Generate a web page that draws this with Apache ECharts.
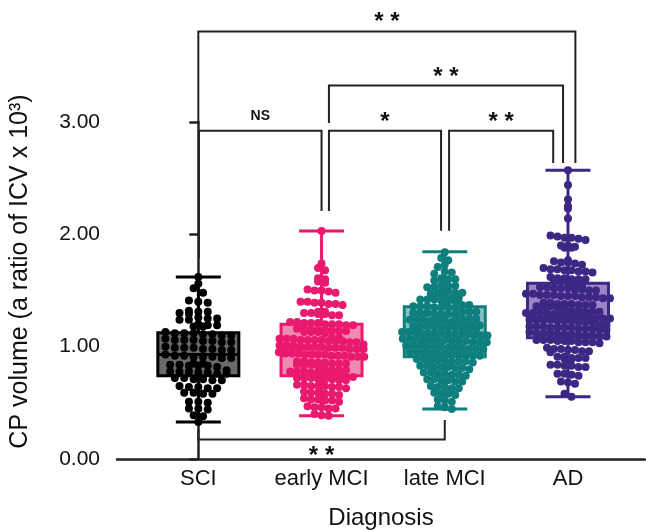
<!DOCTYPE html>
<html>
<head>
<meta charset="utf-8">
<script src="https://cdn.jsdelivr.net/npm/echarts@6/dist/echarts.min.js"></script>
<style>
  html, body { margin: 0; background: #fff; }
  #main { width: 646px; height: 531px; }
</style>
</head>
<body>
<div id="main"></div>
<script>
const categories = ['SCI', 'early MCI', 'late MCI', 'AD'];

// individual subjects
const sciValues = [1.62, 1.56, 1.52, 1.48,
  1.41, 1.40, 1.39,
  1.32, 1.31, 1.31, 1.30, 1.29,
  1.26, 1.25, 1.25, 1.24, 1.24,
  1.20, 1.19, 1.19, 1.18, 1.18,
  1.13, 1.12, 1.12, 1.12, 1.11, 1.11, 1.10, 1.10,
  1.07, 1.06, 1.06, 1.06, 1.05, 1.05, 1.04, 1.04,
  1.00, 0.99, 0.99, 0.99, 0.98, 0.98, 0.97, 0.97,
  0.93, 0.92, 0.92, 0.91, 0.91, 0.91, 0.90, 0.90,
  0.85, 0.85, 0.84, 0.84, 0.83, 0.83, 0.83, 0.82,
  0.79, 0.78, 0.78, 0.78, 0.77, 0.77, 0.76, 0.76,
  0.72, 0.72, 0.71, 0.71, 0.70, 0.70,
  0.65, 0.64, 0.64, 0.63, 0.63,
  0.59, 0.59, 0.58, 0.58,
  0.51, 0.51, 0.50,
  0.45, 0.45, 0.44,
  0.39, 0.38,
  0.33];

const earlyValues = [2.03,
  1.74, 1.70, 1.68,
  1.61, 1.60, 1.58, 1.57,
  1.51, 1.50, 1.50, 1.49, 1.48,
  1.40, 1.40, 1.39, 1.39, 1.38, 1.38, 1.37,
  1.31, 1.31, 1.30, 1.30, 1.29, 1.29, 1.28, 1.28,
  1.22, 1.22, 1.21, 1.21, 1.21, 1.20, 1.20, 1.20, 1.19, 1.19,
  1.16, 1.16, 1.15, 1.15, 1.15, 1.14, 1.14, 1.14, 1.13, 1.13, 1.13, 1.12,
  1.08, 1.08, 1.07, 1.07, 1.07, 1.06, 1.06, 1.06, 1.06, 1.05, 1.05, 1.05, 1.04, 1.04,
  1.02, 1.01, 1.01, 1.01, 1.00, 1.00, 1.00, 1.00, 0.99, 0.99, 0.99, 0.98, 0.98, 0.98,
  0.95, 0.94, 0.94, 0.94, 0.93, 0.93, 0.93, 0.93, 0.92, 0.92, 0.92, 0.91, 0.91, 0.91,
  0.87, 0.87, 0.86, 0.86, 0.86, 0.85, 0.85, 0.85, 0.84, 0.84, 0.84, 0.83,
  0.80, 0.79, 0.79, 0.79, 0.78, 0.78, 0.78, 0.77, 0.77, 0.77, 0.76, 0.76,
  0.73, 0.73, 0.72, 0.72, 0.72, 0.71, 0.71, 0.71, 0.70, 0.70,
  0.66, 0.66, 0.65, 0.65, 0.65, 0.64, 0.64, 0.63,
  0.60, 0.59, 0.59, 0.58, 0.58, 0.57,
  0.54, 0.53, 0.53, 0.52, 0.52, 0.51,
  0.47, 0.46, 0.46, 0.45, 0.45,
  0.40, 0.39, 0.385];

const lateValues = [1.84,
  1.79, 1.77,
  1.73, 1.71,
  1.67, 1.66, 1.65,
  1.61, 1.60, 1.60, 1.59,
  1.55, 1.54, 1.54, 1.53, 1.53,
  1.49, 1.49, 1.48, 1.48, 1.47, 1.47, 1.46,
  1.43, 1.43, 1.42, 1.42, 1.42, 1.41, 1.41, 1.40,
  1.37, 1.37, 1.36, 1.36, 1.36, 1.35, 1.35, 1.35, 1.34,
  1.31, 1.31, 1.31, 1.30, 1.30, 1.30, 1.29, 1.29, 1.29, 1.28,
  1.25, 1.25, 1.25, 1.24, 1.24, 1.24, 1.23, 1.23, 1.23, 1.22, 1.22,
  1.19, 1.19, 1.19, 1.18, 1.18, 1.18, 1.18, 1.17, 1.17, 1.17, 1.16, 1.16, 1.16,
  1.13, 1.13, 1.13, 1.12, 1.12, 1.12, 1.12, 1.11, 1.11, 1.11, 1.11, 1.10, 1.10, 1.10,
  1.07, 1.07, 1.07, 1.06, 1.06, 1.06, 1.06, 1.05, 1.05, 1.05, 1.04, 1.04, 1.04,
  1.01, 1.01, 1.01, 1.00, 1.00, 1.00, 0.99, 0.99, 0.99, 0.98, 0.98, 0.98,
  0.95, 0.95, 0.95, 0.94, 0.94, 0.94, 0.93, 0.93, 0.93, 0.92, 0.92,
  0.89, 0.89, 0.88, 0.88, 0.88, 0.87, 0.87, 0.87, 0.86,
  0.83, 0.83, 0.82, 0.82, 0.82, 0.81, 0.81, 0.80,
  0.77, 0.77, 0.76, 0.76, 0.75, 0.75, 0.74,
  0.71, 0.71, 0.70, 0.70, 0.69, 0.69,
  0.65, 0.64, 0.64, 0.63, 0.63,
  0.59, 0.58, 0.58, 0.57,
  0.53, 0.52, 0.51,
  0.47, 0.46,
  0.445];

const adValues = [2.57,
  2.44,
  2.31,
  2.25, 2.23,
  2.14,
  1.99, 1.98, 1.97, 1.97, 1.96, 1.95,
  1.90, 1.90, 1.89, 1.88, 1.88,
  1.77, 1.76, 1.75, 1.75, 1.74, 1.73,
  1.70, 1.69, 1.69, 1.68, 1.68, 1.67, 1.67, 1.66,
  1.62, 1.61, 1.61, 1.60, 1.60, 1.60, 1.59, 1.59, 1.58,
  1.54, 1.54, 1.53, 1.53, 1.52, 1.52, 1.52, 1.51, 1.51, 1.50, 1.50,
  1.47, 1.47, 1.46, 1.46, 1.46, 1.45, 1.45, 1.45, 1.44, 1.44, 1.44, 1.43, 1.43,
  1.39, 1.39, 1.38, 1.38, 1.38, 1.37, 1.37, 1.37, 1.36, 1.36, 1.36, 1.35, 1.35,
  1.32, 1.32, 1.31, 1.31, 1.31, 1.30, 1.30, 1.30, 1.30, 1.29, 1.29, 1.29, 1.28, 1.28,
  1.26, 1.25, 1.25, 1.25, 1.24, 1.24, 1.24, 1.24, 1.23, 1.23, 1.23, 1.22, 1.22, 1.22,
  1.19, 1.19, 1.18, 1.18, 1.18, 1.17, 1.17, 1.17, 1.17, 1.16, 1.16, 1.16, 1.15, 1.15,
  1.13, 1.12, 1.12, 1.12, 1.11, 1.11, 1.11, 1.10, 1.10, 1.10, 1.09, 1.09,
  1.06, 1.06, 1.06, 1.05, 1.05, 1.05, 1.04, 1.04, 1.04, 1.03,
  0.99, 0.98, 0.98, 0.97, 0.97, 0.96, 0.96, 0.95,
  0.91, 0.91, 0.90, 0.90, 0.90, 0.89, 0.89,
  0.84, 0.84, 0.83, 0.83, 0.82, 0.82,
  0.76, 0.76, 0.75, 0.74,
  0.69, 0.68, 0.67,
  0.58,
  0.555];

// box summaries as drawn (whisker low, Q1, median, Q3, whisker high)
const boxMin = [0.33, 0.385, 0.445, 0.555];
const boxQ1 = [0.74, 0.74, 0.91, 1.08];
const boxMedian = [0.93, 0.98, 1.12, 1.26];
const boxQ3 = [1.125, 1.20, 1.356, 1.565];
const boxMax = [1.62, 2.03, 1.845, 2.57];

// pairwise comparisons: group a, group b, mark
const compareA = [0, 1, 0, 1, 2, 0];
const compareB = [3, 3, 1, 2, 3, 2];
const compareMark = ['* *', '* *', 'NS', '*', '* *', '* *'];

const groupValues = [sciValues, earlyValues, lateValues, adValues];
const dotColors = ['#000000', '#e8196e', '#0f7f7e', '#3d2784'];
const boxFills = ['#6a6a6a', '#f08ab1', '#89c1bf', '#9c84c8'];
const dotSpacing = [9.4, 7, 7, 7];
const PX_X = 123.2; // px per category step
const FONT = '"Liberation Sans", Arial, sans-serif';

// bracket drawing layout (leg x offsets in category units, heights in y units)
const bracketLayout = [
  { x1: 0.0, x2: 3.06, bar: 3.805, foot1: 2.99, foot2: 2.636, below: false },
  { x1: 1.06, x2: 2.96, bar: 3.324, foot1: 2.99, foot2: 2.636, below: false },
  { x1: 0.005, x2: 1.0, bar: 2.921, foot1: 1.79, foot2: 2.208, below: false },
  { x1: 1.06, x2: 1.97, bar: 2.921, foot1: 2.208, foot2: 2.033, below: false },
  { x1: 2.035, x2: 2.88, bar: 2.921, foot1: 2.033, foot2: 2.636, below: false },
  { x1: 0.0, x2: 2.0, bar: 0.174, foot1: 0.258, foot2: 0.347, below: true }
];

// lay dots out in rows, spread sideways around the category centre
function swarm(values, center, spacing) {
  const rows = {};
  values.forEach(v => {
    const k = Math.round(v / 0.058);
    (rows[k] = rows[k] || []).push(v);
  });
  const pts = [];
  Object.keys(rows).forEach(k => {
    const row = rows[k];
    const step = Math.min(spacing, 92 / row.length) / PX_X;
    row.forEach((v, j) => pts.push([center + (j - (row.length - 1) / 2) * step, v]));
  });
  return pts;
}

function boxRenderer(withFill) {
  return function (params, api) {
    const i = params.dataIndex;
    const c = api.value(0);
    const pMin = api.coord([c, api.value(1)]);
    const pQ1 = api.coord([c, api.value(2)]);
    const pMed = api.coord([c, api.value(3)]);
    const pQ3 = api.coord([c, api.value(4)]);
    const pMax = api.coord([c, api.value(5)]);
    const x = pMed[0];
    const half = 40.5, cap = 22.5;
    const stroke = dotColors[i];
    if (withFill) {
      return {
        type: 'rect',
        shape: { x: x - half, y: pQ3[1], width: half * 2, height: pQ1[1] - pQ3[1] },
        style: { fill: boxFills[i] }
      };
    }
    const ls = { stroke: stroke, lineWidth: 3, fill: null };
    return {
      type: 'group',
      children: [
        { type: 'rect', shape: { x: x - half, y: pQ3[1], width: half * 2, height: pQ1[1] - pQ3[1] }, style: ls },
        { type: 'line', shape: { x1: x - half, y1: pMed[1], x2: x + half, y2: pMed[1] }, style: ls },
        { type: 'line', shape: { x1: x, y1: pQ3[1], x2: x, y2: pMax[1] }, style: ls },
        { type: 'line', shape: { x1: x, y1: pQ1[1], x2: x, y2: pMin[1] }, style: ls },
        { type: 'line', shape: { x1: x - cap, y1: pMax[1], x2: x + cap, y2: pMax[1] }, style: ls },
        { type: 'line', shape: { x1: x - cap, y1: pMin[1], x2: x + cap, y2: pMin[1] }, style: ls }
      ]
    };
  };
}

function renderBracket(params, api) {
  const k = params.dataIndex;
  const b = bracketLayout[k];
  const a0 = api.coord([b.x1, b.foot1]);
  const a1 = api.coord([b.x1, b.bar]);
  const b1 = api.coord([b.x2, b.bar]);
  const b0 = api.coord([b.x2, b.foot2]);
  const mark = compareMark[k];
  const isNS = mark === 'NS';
  const size = isNS ? 14 : 24;
  const mid = (a1[0] + b1[0]) / 2;
  // asterisks sit high in the em box, so push them down a little
  const ty = b.below ? a1[1] + 12 + 0.22 * size : a1[1] - (isNS ? 15 : 14) + (isNS ? 0 : 0.22 * size);
  return {
    type: 'group',
    children: [
      { type: 'polyline', shape: { points: [a0, a1, b1, b0] }, style: { stroke: '#222', lineWidth: 2, fill: null } },
      {
        type: 'text', x: mid, y: ty,
        style: {
          text: mark, fill: '#111', fontSize: size, fontWeight: 'bold', fontFamily: FONT,
          align: 'center', verticalAlign: 'middle', textAlign: 'center', textVerticalAlign: 'middle'
        }
      }
    ]
  };
}

const boxData = categories.map((c, i) => [i, boxMin[i], boxQ1[i], boxMedian[i], boxQ3[i], boxMax[i]]);

const series = [
  { type: 'custom', renderItem: boxRenderer(true), data: boxData, z: 1, silent: true },
  { type: 'custom', renderItem: boxRenderer(false), data: boxData, z: 4, silent: true },
  {
    type: 'custom', renderItem: renderBracket, clip: false, z: 5, silent: true,
    data: bracketLayout.map((b, k) => [compareA[k], b.bar])
  }
];
groupValues.forEach((vals, i) => {
  series.push({
    type: 'scatter',
    name: categories[i],
    data: swarm(vals, i, dotSpacing[i]),
    symbolSize: 8,
    itemStyle: { color: dotColors[i], opacity: 1 },
    z: 3,
    silent: true
  });
});

const chart = echarts.init(document.getElementById('main'), null, { renderer: 'canvas' });
chart.setOption({
  backgroundColor: '#fff',
  animation: false,
  textStyle: { fontFamily: FONT },
  grid: { left: 117, right: 1, top: 122, bottom: 72, containLabel: false, outerBoundsMode: 'none' },
  xAxis: {
    type: 'value',
    min: -0.66,
    max: 3.625,
    splitLine: { show: false },
    axisLine: { lineStyle: { color: '#222', width: 2.5 } },
    axisTick: { show: false },
    axisLabel: {
      customValues: [0, 1, 2, 3],
      formatter: v => categories[Math.round(v)],
      fontSize: 22, color: '#111', margin: 9, fontFamily: FONT
    },
    name: 'Diagnosis',
    nameLocation: 'middle',
    nameGap: 47,
    nameTextStyle: { fontSize: 24, color: '#111', fontFamily: FONT }
  },
  yAxis: {
    type: 'value',
    min: 0,
    max: 3,
    interval: 1,
    splitLine: { show: false },
    axisLine: { show: true, lineStyle: { color: '#222', width: 2.5 } },
    axisTick: { show: true, length: 9, lineStyle: { color: '#222', width: 2.5 } },
    axisLabel: { formatter: v => v.toFixed(2), fontSize: 21, color: '#111', margin: 17, fontFamily: FONT },
    name: 'CP volume (a ratio of ICV x 10³)',
    nameLocation: 'middle',
    nameGap: 84,
    nameTextStyle: { fontSize: 25, color: '#111', fontFamily: FONT, padding: [0, 0, 0, 38] }
  },
  series: series
});
</script>
</body>
</html>
